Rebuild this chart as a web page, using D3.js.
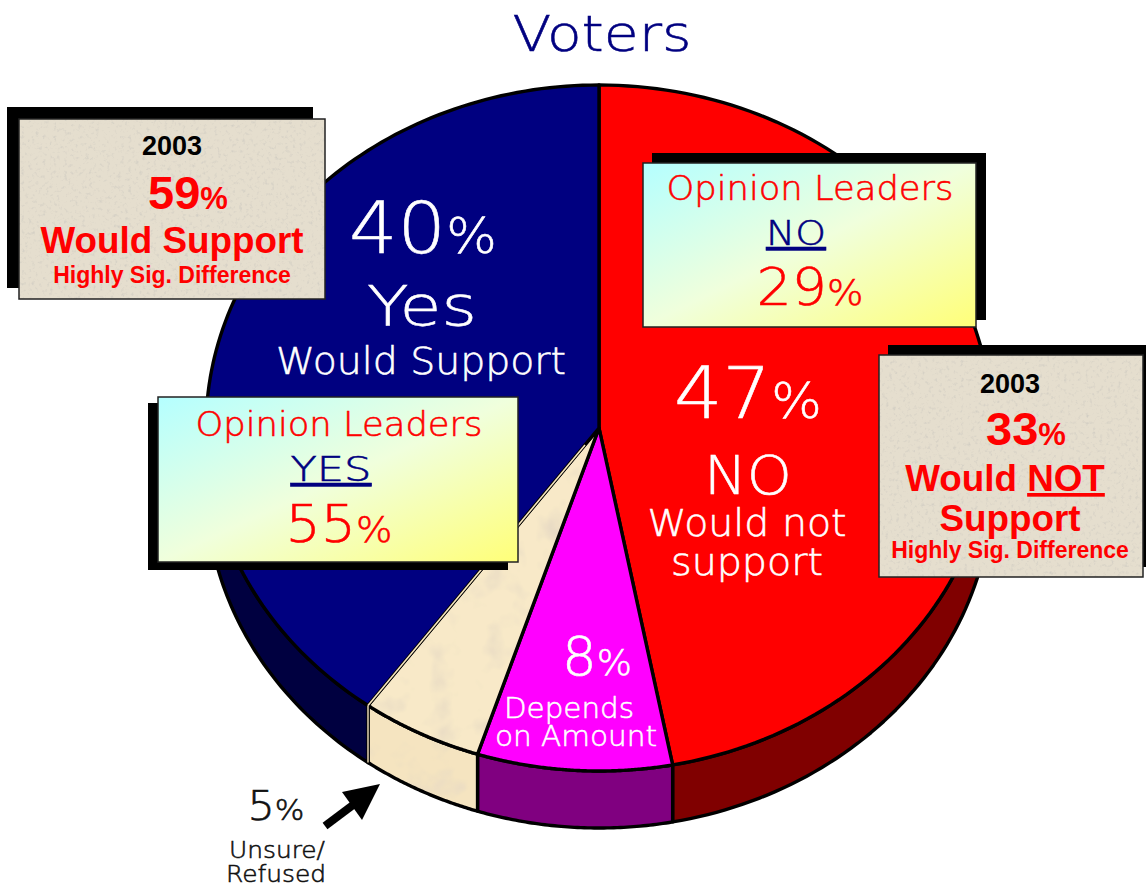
<!DOCTYPE html>
<html><head><meta charset="utf-8">
<script src="https://cdn.jsdelivr.net/npm/d3@7"></script>
<style>html,body{margin:0;padding:0;background:#fff;overflow:hidden}svg{display:block}
.l{font-family:"DejaVu Sans";font-weight:200;stroke-width:.55px}.b{font-family:"Liberation Sans";font-weight:700}</style>
</head><body><svg id="c" width="1146" height="886"></svg>
<script>
const categories=["NO Would not support","Depends on Amount","Unsure/Refused","Yes Would Support"];
const values=[47,8,5,40];
const topColors=["#ff0000","#ff00ff","#f8e9c8","#000080"];
const sideColors=["#800000","#800080","#f5e4c0","#000040"];
const depth=57;
const svg=d3.select("#c");
const defs=svg.append("defs");
const grad=(id)=>{const g=defs.append("linearGradient").attr("id",id).attr("x1",0).attr("y1",0).attr("x2",1).attr("y2",1);
 [["0","#b4ffff"],["0.5","#f0ffdc"],["1","#ffff78"]].forEach(s=>g.append("stop").attr("offset",s[0]).attr("stop-color",s[1]));};
grad("op");
const tex=(id,f,c,a,o)=>{const fl=defs.append("filter").attr("id",id).attr("x",0).attr("y",0).attr("width",1).attr("height",1);
 fl.append("feTurbulence").attr("type","fractalNoise").attr("baseFrequency",f).attr("numOctaves",3).attr("seed",4).attr("result","n");
 fl.append("feColorMatrix").attr("in","n").attr("type","matrix").attr("values",`0 0 0 0 ${c[0]} 0 0 0 0 ${c[1]} 0 0 0 0 ${c[2]} ${a} 0 0 0 ${-a*o}`).attr("result","s");
 fl.append("feComposite").attr("in","s").attr("in2","SourceGraphic").attr("operator","in").attr("result","t");
 const m=fl.append("feMerge");m.append("feMergeNode").attr("in","SourceGraphic");m.append("feMergeNode").attr("in","t");};
tex("paper",0.28,[0.6,0.58,0.53],2,0.55);
tex("parch",0.035,[0.8,0.7,0.55],2.4,0.52);

const x=d3.scaleLinear().domain([-1,1]).range([599-393,599+393]);
const y=d3.scaleLinear().domain([-1,1]).range([428-343,428+343]);
const px=a=>x(Math.sin(a)),py=a=>y(-Math.cos(a));
const arcs=d3.pie().sort(null)(values);
const samples=(a0,a1,n)=>d3.range(0,n+1).map(k=>a0+(a1-a0)*k/n);
const ink=3.4;

function paint(g,dStr,fill,tx){
 g.append("path").attr("d",dStr).attr("fill",fill).attr("filter",tx?"url(#parch)":null);
 return g.append("path").attr("d",dStr).attr("fill","none").attr("stroke","#000").attr("stroke-width",ink).attr("stroke-linejoin","round");
}
// side walls (only the front half, angles 90°..270°)
const wall=svg.append("g");
arcs.forEach((d,i)=>{
 const a0=Math.max(d.startAngle,Math.PI/2),a1=Math.min(d.endAngle,Math.PI*1.5);
 if(a1<=a0)return;
 const as=samples(a0,a1,60);
 const p=d3.path();
 as.forEach((a,k)=>k?p.lineTo(px(a),py(a)):p.moveTo(px(a),py(a)));
 as.slice().reverse().forEach(a=>p.lineTo(px(a),py(a)+depth));
 p.closePath();
 paint(wall,p.toString(),sideColors[i],i==2);
});
// top faces
const face=svg.append("g");
arcs.forEach((d,i)=>{
 const p=d3.path();
 p.moveTo(x(0),y(0));
 samples(d.startAngle,d.endAngle,120).forEach(a=>p.lineTo(px(a),py(a)));
 p.closePath();
 paint(face,p.toString(),topColors[i],i==2);
});
// cream seam between the tan and blue slices
const seamA=arcs[2].endAngle;
svg.append("path").attr("d",d3.line()([[x(0)-14,y(0)+17],[px(seamA),py(seamA)]])).attr("stroke","#f5e4c0").attr("stroke-width",1.6).attr("fill","none");
svg.append("path").attr("d",d3.line()([[px(seamA),py(seamA)],[px(seamA),py(seamA)+depth]])).attr("stroke","#f5e4c0").attr("stroke-width",1.4).attr("fill","none");

function box(sx,sy,sw,sh,bx,by,bw,bh,fill,filter){
 svg.append("rect").attr("x",sx).attr("y",sy).attr("width",sw).attr("height",sh).attr("fill","#000");
 svg.append("rect").attr("x",bx).attr("y",by).attr("width",bw).attr("height",bh).attr("fill",fill).attr("filter",filter);
 svg.append("rect").attr("x",bx).attr("y",by).attr("width",bw).attr("height",bh).attr("fill","none").attr("stroke","#222").attr("stroke-width",1.5);
}
box(7,107,306,181,19,119,306,180,"#e5dece","url(#paper)");
box(652,153,334,167,643,163,333,164,"url(#op)",null);
box(888,345,258,222,879,355,264,222,"#e5dece","url(#paper)");
box(148,403,360,167,158,397,360,165,"url(#op)",null);

function t(cls,cx,by,size,fill,txt,pct,len,ul){
 const e=svg.append("text").attr("class",cls).attr("x",cx).attr("y",by).attr("font-size",size).attr("fill",fill).attr("text-anchor","middle");
 if(cls=="l")e.attr("stroke",fill);
 e.append("tspan").text(txt).attr("text-decoration",ul?"underline":null);
 if(pct)e.append("tspan").attr("font-size",pct).text("%");
 if(len)e.attr("textLength",len).attr("lengthAdjust","spacingAndGlyphs");
 return e;
}
t("l",602,51,49,"#000080","Voters",null,179);
// Pie labels
t("l",423,253,71,"#fff",values[3],50,148);
t("l",422,325,56,"#fff","Yes",null,110);
t("l",421,374,37,"#fff","Would Support",null,290);
t("l",748,418,71,"#fff",values[0],50,148);
t("l",748,494,53,"#fff","NO",null,88);
t("l",747,536,37,"#fff","Would not",null,199);
t("l",747,575,37,"#fff","support",null,152);
t("l",597,675,53,"#fff",values[1],36,70);
t("l",569,718,28,"#fff","Depends",null,130);
t("l",576,746,28,"#fff","on Amount",null,162);
t("l",276,820,40,"#111",values[2],29,57);
t("l",277,858,23,"#111","Unsure/",null,96);
t("l",276,882,23,"#111","Refused",null,100);
// Opinion leaders
t("l",810,200,33,"#ff0000","Opinion Leaders",null,287);
t("l",796,245,34,"#000080","NO",null,60,true);
t("l",810,305,52,"#ff0000","29",36,107);
t("l",339,436,33,"#ff0000","Opinion Leaders",null,287);
t("l",331,481,34,"#000080","YES",null,81,true);
t("l",339,542,52,"#ff0000","55",36,107);
// 2003 boxes
t("b",172,155,27,"#000","2003");
t("b",188,209,47,"#ff0000","59",31);
t("b",172,253,36.8,"#ff0000","Would Support");
t("b",172,283,23,"#ff0000","Highly Sig. Difference");
t("b",1010,393,27,"#000","2003");
t("b",1026,445,47,"#ff0000","33",31);
const wn=svg.append("text").attr("class","b").attr("x",1005).attr("y",491).attr("font-size",36.8).attr("fill","#ff0000").attr("text-anchor","middle");
wn.append("tspan").text("Would ");wn.append("tspan").text("NOT").attr("text-decoration","underline");
t("b",1010,531,36.8,"#ff0000","Support");
t("b",1010,558,23,"#ff0000","Highly Sig. Difference");
// Arrow
svg.append("line").attr("x1",325).attr("y1",826).attr("x2",365).attr("y2",796).attr("stroke","#000").attr("stroke-width",8);
svg.append("path").attr("d",d3.line()([[380,784],[342,792],[362,820]])+"Z").attr("fill","#000");
</script></body></html>
